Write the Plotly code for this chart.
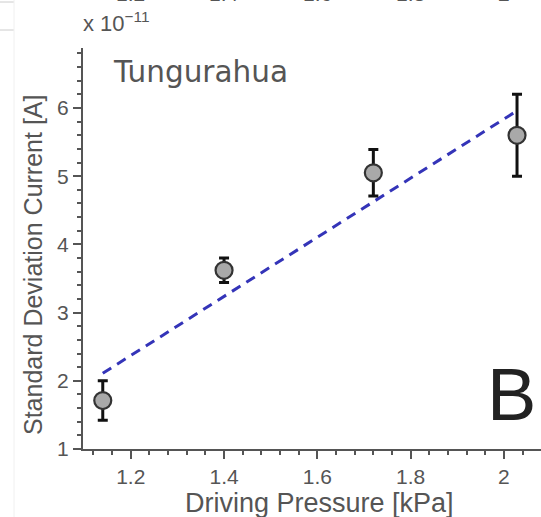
import plotly.graph_objects as go

# ---- data ----
pressure_kpa = [1.14, 1.40, 1.72, 2.028]
std_current_e11 = [1.71, 3.62, 5.05, 5.60]
std_error_e11 = [0.29, 0.18, 0.34, 0.60]
fit_pressure = [1.14, 2.028]
fit_current_e11 = [2.11, 5.96]
x_tick_vals = [1.2, 1.4, 1.6, 1.8, 2.0]
x_tick_text = ["1.2", "1.4", "1.6", "1.8", "2"]
y_tick_vals = [1, 2, 3, 4, 5, 6]
panel_name = "Tungurahua"
panel_letter = "B"

W, H = 541, 517
ML, MR, MT, MB = 83, 0, 48, 68
PW, PH = W - ML - MR, H - MT - MB


def px(x):
    return (x - ML) / PW


def py(y):
    return (H - MB - y) / PH


FONT = "Liberation Sans, Arial, sans-serif"
GRAY = "#555555"

fig = go.Figure()

fig.add_trace(go.Scatter(
    x=fit_pressure, y=fit_current_e11, mode="lines",
    line=dict(color="#3434b8", width=3, dash="10px,7px"),
    hoverinfo="skip", showlegend=False,
))

fig.add_trace(go.Scatter(
    x=pressure_kpa, y=std_current_e11, mode="markers",
    marker=dict(size=17, color="#a9a9a9", line=dict(color="#333333", width=2.2)),
    error_y=dict(type="data", array=std_error_e11, visible=True,
                 color="#111111", thickness=3, width=5),
    showlegend=False,
))

annotations = [
    dict(text=panel_name, x=px(111), y=py(72), xref="paper", yref="paper",
         xanchor="left", yanchor="middle", showarrow=False,
         font=dict(family="DejaVu Sans, sans-serif", size=29.5, color=GRAY)),
    dict(text=panel_letter, x=px(538), y=py(394), xref="paper", yref="paper",
         xanchor="right", yanchor="middle", showarrow=False,
         font=dict(family=FONT, size=74, color="#222222")),
    dict(text="Standard Deviation Current [A]", x=px(33), y=py(265),
         xref="paper", yref="paper", xanchor="center", yanchor="middle",
         textangle=-90, showarrow=False,
         font=dict(family=FONT, size=25, color=GRAY)),
    dict(text="Driving Pressure [kPa]", x=px(319), y=py(503),
         xref="paper", yref="paper", xanchor="center", yanchor="middle",
         showarrow=False, font=dict(family=FONT, size=27, color=GRAY)),
    dict(text="x 10<sup>\u221211</sup>", x=px(81), y=py(22),
         xref="paper", yref="paper", xanchor="left", yanchor="middle",
         showarrow=False, font=dict(family=FONT, size=22, color=GRAY)),
]
# partially visible tick labels of the panel above (cut by the image edge)
for v, t in zip(x_tick_vals, x_tick_text):
    annotations.append(dict(text=t, x=v, y=py(-7), xref="x", yref="paper",
                            xanchor="center", yanchor="middle", showarrow=False,
                            font=dict(family=FONT, size=21, color=GRAY)))

shapes = [
    dict(type="line", xref="paper", yref="paper", x0=px(0), x1=px(14),
         y0=py(2), y1=py(2), line=dict(color="#cccccc", width=1)),
    dict(type="line", xref="paper", yref="paper", x0=px(0), x1=px(14),
         y0=py(30), y1=py(30), line=dict(color="#cccccc", width=1)),
    dict(type="line", xref="paper", yref="paper", x0=px(14), x1=px(14),
         y0=py(0), y1=py(517), line=dict(color="#f0f0f0", width=1)),
]

fig.update_layout(
    width=W, height=H,
    margin=dict(l=ML, r=MR, t=MT, b=MB),
    paper_bgcolor="white", plot_bgcolor="white",
    font=dict(family=FONT, color=GRAY),
    annotations=annotations, shapes=shapes,
    xaxis=dict(
        range=[1.2 - (130.7 - ML) / 466, 2.0 + (W - 504) / 466],
        tickvals=x_tick_vals, ticktext=x_tick_text,
        ticks="outside", ticklen=8, tickwidth=2, tickcolor=GRAY,
        minor=dict(dtick=0.04, tick0=1.2, ticks="outside", ticklen=4,
                   tickwidth=1.5, tickcolor=GRAY),
        showline=True, linecolor=GRAY, linewidth=2,
        showgrid=False, zeroline=False,
        tickfont=dict(family=FONT, size=21, color=GRAY),
    ),
    yaxis=dict(
        range=[1, 1 + (H - MB - MT) / 68.2],
        tickvals=y_tick_vals,
        ticks="outside", ticklen=8, tickwidth=2, tickcolor=GRAY,
        minor=dict(dtick=0.2, tick0=1, ticks="outside", ticklen=4,
                   tickwidth=1.5, tickcolor=GRAY),
        showline=True, linecolor=GRAY, linewidth=2,
        showgrid=False, zeroline=False,
        tickfont=dict(family=FONT, size=21, color=GRAY),
    ),
)

fig.write_html("out.html")
